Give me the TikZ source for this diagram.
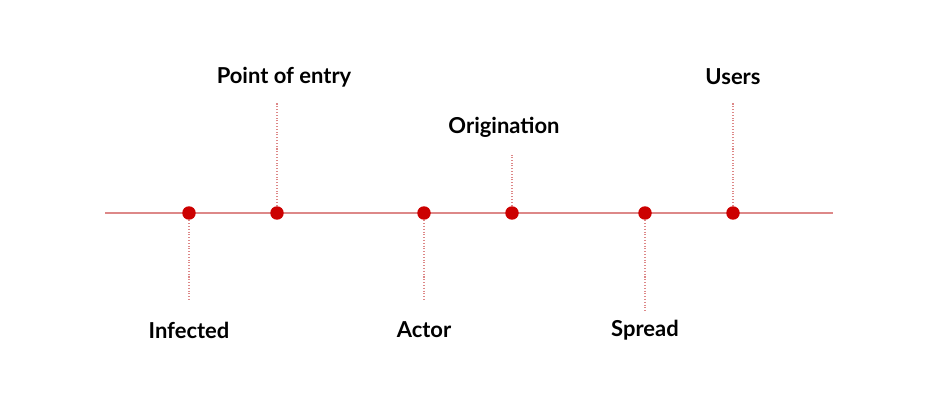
\documentclass[tikz,border=0pt]{standalone}
\usepackage{fontspec}
\setmainfont{Lato}
\usetikzlibrary{positioning}
\definecolor{dotred}{HTML}{CC0000}
\definecolor{linered}{HTML}{DD8888}

\begin{document}
\begin{tikzpicture}[x=0.02cm, y=-0.02cm, semithick,
    dot/.style={circle, fill=dotred, inner sep=0pt, minimum size=0.27cm},
    lbl/.style={font=\bfseries\fontsize{12.5}{14}\selectfont, inner sep=0pt},
    tick/.style={linered, densely dotted}]
    \useasboundingbox (0,0) rectangle (938,409);
    \coordinate (left)  at (105,213);
    \coordinate (right) at (833,213);
    \draw[linered] (left) -- (right);

    \node[dot] (infected) at (189,213) {};
    \node[dot] (entry)    at (277,213) {};
    \node[dot] (actor)    at (424,213) {};
    \node[dot] (orig)     at (512,213) {};
    \node[dot] (spread)   at (645,213) {};
    \node[dot] (users)    at (733,213) {};

    \coordinate (infectedend) at (189,300);
    \coordinate (entryend)    at (277,102);
    \coordinate (actorend)    at (424,300);
    \coordinate (origend)     at (512,155);
    \coordinate (spreadend)   at (645,312);
    \coordinate (usersend)    at (733,102);

    \foreach \n in {infected, entry, actor, orig, spread, users}
        \draw[tick] (\n) -- (\n end);

    \node[lbl] (infectedtext) at (189,330) {Infected};
    \node[lbl] (entrytext)    at (284,77)  {Point of entry};
    \node[lbl] (actortext)    at (424,330) {Actor};
    \node[lbl] (origtext)     at (504,127) {Origination};
    \node[lbl] (spreadtext)   at (645,330) {Spread};
    \node[lbl] (userstext)    at (733,77)  {Users};
\end{tikzpicture}
\end{document}
